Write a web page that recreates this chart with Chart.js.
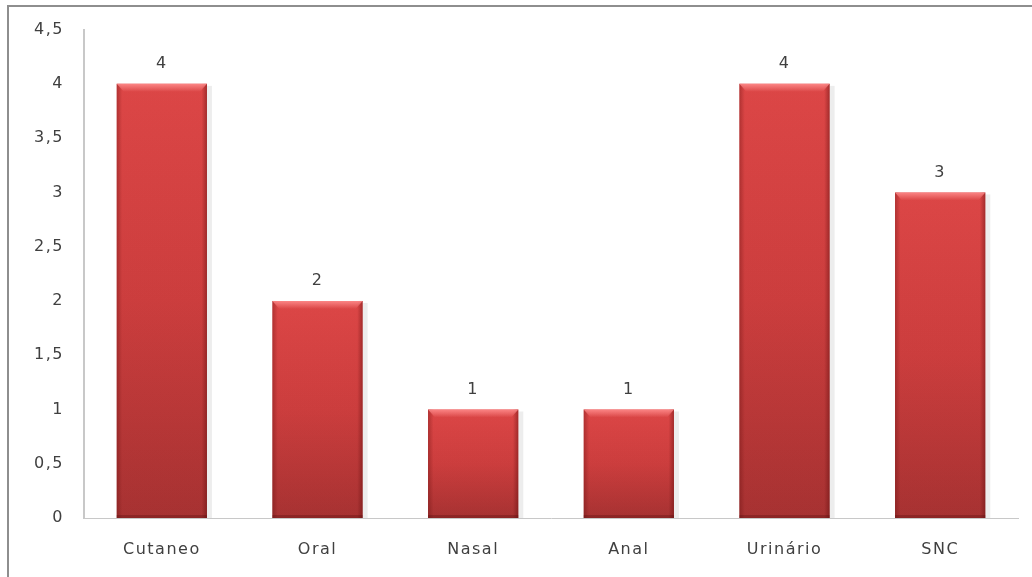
<!DOCTYPE html>
<html>
<head>
<meta charset="utf-8">
<script src="https://cdn.jsdelivr.net/npm/chart.js@4"></script>
<style>
    html, body { margin: 0; padding: 0; background: #fff; overflow: hidden; }
    #wrap { position: relative; width: 1032px; height: 577px; }
    #frame {
        position: absolute; left: 7px; top: 5px; width: 1100px; height: 700px;
        border-top: 2px solid #8e8e8e; border-left: 2px solid #8e8e8e;
    }
    #casesChart { position: absolute; left: 0; top: 0; }
</style>
</head>
<body>
<div id="wrap">
    <div id="frame"></div>
    <canvas id="casesChart" width="1032" height="577"></canvas>
</div>
<script>
const categories = ['Cutaneo', 'Oral', 'Nasal', 'Anal', 'Urinário', 'SNC'];
const cases = [4, 2, 1, 1, 4, 3];
const yTicks = [0, 0.5, 1, 1.5, 2, 2.5, 3, 3.5, 4, 4.5];

const textFont = { family: 'DejaVu Sans', size: 16 };

// Red gradient for each bar, light at its top and darker at its base
function barFill(context) {
    const chart = context.chart;
    const y = chart.scales.y;
    if (!chart.chartArea || !y) return '#d04040';
    const top = y.getPixelForValue(context.raw);
    const base = y.getPixelForValue(0);
    const g = chart.ctx.createLinearGradient(0, top, 0, base);
    g.addColorStop(0, '#e04848');
    g.addColorStop(0.5, '#cf3f3f');
    g.addColorStop(1, '#a93333');
    return g;
}

// Bevel: darker sides, lighter top strip and a soft shadow on the right
const bevelPlugin = {
    id: 'bevel',
    beforeDraw(chart) {
        chart.ctx.letterSpacing = '1.5px';
    },
    beforeDatasetsDraw(chart) {
        const ctx = chart.ctx;
        chart.getDatasetMeta(0).data.forEach(bar => {
            const p = bar.getProps(['x', 'y', 'base', 'width'], true);
            const left = p.x - p.width / 2;
            ctx.save();
            ctx.fillStyle = 'rgba(0,0,0,0.07)';
            ctx.fillRect(left + 2, p.y + 2, p.width + 3, p.base - p.y - 2);
            ctx.restore();
        });
    },
    afterDatasetsDraw(chart) {
        const ctx = chart.ctx;
        chart.getDatasetMeta(0).data.forEach(bar => {
            const p = bar.getProps(['x', 'y', 'base', 'width'], true);
            const left = p.x - p.width / 2;
            const right = p.x + p.width / 2;
            const h = p.base - p.y;
            ctx.save();
            const side = ctx.createLinearGradient(left, 0, right, 0);
            side.addColorStop(0, 'rgba(90,10,10,0.35)');
            side.addColorStop(0.06, 'rgba(90,10,10,0.03)');
            side.addColorStop(0.94, 'rgba(90,10,10,0.03)');
            side.addColorStop(1, 'rgba(90,10,10,0.45)');
            ctx.fillStyle = side;
            ctx.fillRect(left, p.y, p.width, h);
            // light strip along the top edge
            const top = ctx.createLinearGradient(0, p.y, 0, p.y + 8);
            top.addColorStop(0, 'rgba(255,140,140,0.9)');
            top.addColorStop(1, 'rgba(255,140,140,0)');
            ctx.fillStyle = top;
            ctx.beginPath();
            ctx.moveTo(left, p.y);
            ctx.lineTo(right, p.y);
            ctx.lineTo(right - 7, p.y + 8);
            ctx.lineTo(left + 7, p.y + 8);
            ctx.closePath();
            ctx.fill();
            // darker line at the base
            ctx.fillStyle = 'rgba(80,10,10,0.3)';
            ctx.fillRect(left, p.base - 3, p.width, 3);
            ctx.restore();
        });
    }
};

// Value labels above each bar
const valueLabels = {
    id: 'valueLabels',
    afterDatasetsDraw(chart) {
        const ctx = chart.ctx;
        ctx.save();
        ctx.font = textFont.size + 'px "' + textFont.family + '"';
        ctx.fillStyle = '#404040';
        ctx.textAlign = 'center';
        ctx.textBaseline = 'middle';
        chart.getDatasetMeta(0).data.forEach((bar, i) => {
            ctx.fillText(String(cases[i]), bar.x, bar.y - 20);
        });
        ctx.restore();
    }
};

new Chart(document.getElementById('casesChart'), {
    type: 'bar',
    data: {
        labels: categories,
        datasets: [{
            data: cases,
            backgroundColor: barFill,
            borderWidth: 0,
            barPercentage: 0.58,
            categoryPercentage: 1
        }]
    },
    options: {
        responsive: false,
        animation: false,
        layout: { padding: { top: 27, right: 14, left: 0, bottom: 0 } },
        plugins: {
            legend: { display: false },
            tooltip: { enabled: false }
        },
        scales: {
            x: {
                grid: { display: false, drawTicks: false },
                border: { display: true, color: '#c8c8c8', width: 1 },
                ticks: {
                    color: '#404040',
                    font: textFont,
                    padding: 22
                },
                afterFit(scale) { scale.height = 59; }
            },
            y: {
                min: 0,
                max: 4.5,
                afterBuildTicks(scale) {
                    scale.ticks = yTicks.map(v => ({ value: v }));
                },
                grid: { display: false, drawTicks: false },
                border: { display: true, color: '#c8c8c8', width: 2 },
                ticks: {
                    color: '#404040',
                    font: textFont,
                    padding: 20,
                    callback: v => String(v).replace('.', ',')
                },
                afterFit(scale) { scale.width = 84; }
            }
        }
    },
    plugins: [bevelPlugin, valueLabels]
});
</script>
</body>
</html>
